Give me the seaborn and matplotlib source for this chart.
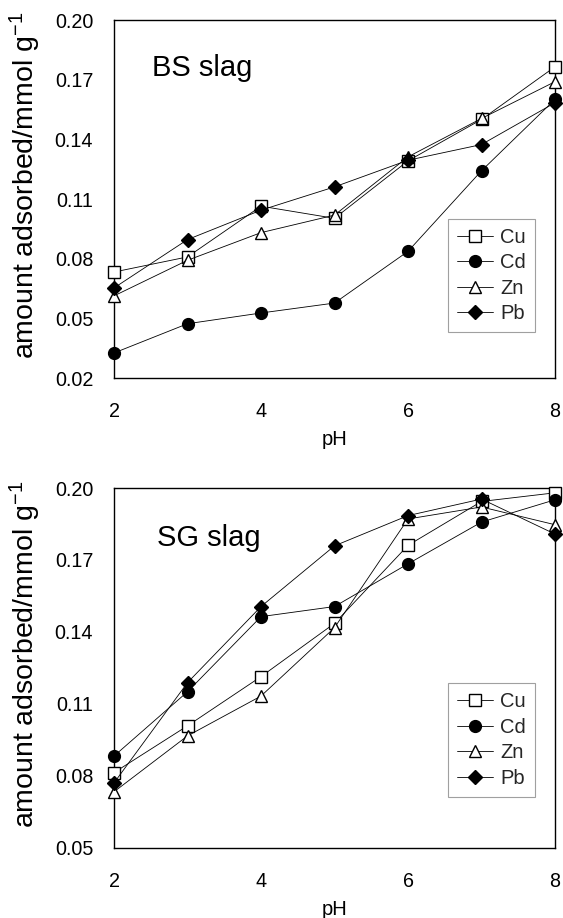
import matplotlib
matplotlib.use("Agg")
import matplotlib.pyplot as plt
import seaborn as sns
import pandas as pd

pH = [2, 3, 4, 5, 6, 7, 8]
metals = ["Cu", "Cd", "Zn", "Pb"]

bs_cu = [0.0733, 0.0809, 0.1064, 0.1003, 0.1292, 0.1500, 0.1765]
bs_cd = [0.0326, 0.0473, 0.0527, 0.0577, 0.0837, 0.1242, 0.1601]
bs_zn = [0.0613, 0.0792, 0.0931, 0.1019, 0.1312, 0.1505, 0.1690]
bs_pb = [0.0653, 0.0896, 0.1044, 0.1161, 0.1295, 0.1374, 0.1584]

sg_cu = [0.0814, 0.1009, 0.1214, 0.1436, 0.1761, 0.1944, 0.1980]
sg_cd = [0.0883, 0.1151, 0.1464, 0.1506, 0.1684, 0.1858, 0.1951]
sg_zn = [0.0734, 0.0967, 0.1133, 0.1418, 0.1871, 0.1921, 0.1847]
sg_pb = [0.0771, 0.1189, 0.1506, 0.1759, 0.1885, 0.1954, 0.1808]

bs_ticks = [0.02, 0.05, 0.08, 0.11, 0.14, 0.17, 0.20]
sg_ticks = [0.05, 0.08, 0.11, 0.14, 0.17, 0.20]
x_ticks = [2, 4, 6, 8]

sns.set_theme(style="white")
plt.rcParams["font.family"] = ["Liberation Sans", "DejaVu Sans"]
plt.rcParams["mathtext.fontset"] = "custom"
plt.rcParams["mathtext.rm"] = "Liberation Sans"
plt.rcParams["mathtext.it"] = "Liberation Sans"

styles = {
    "Cu": dict(marker="s", mfc="white"),
    "Cd": dict(marker="o", mfc="black"),
    "Zn": dict(marker="^", mfc="white"),
    "Pb": dict(marker="D", mfc="black"),
}
msizes = {"Cu": 8, "Cd": 8.5, "Zn": 8.5, "Pb": 7}

fig = plt.figure(figsize=(5.63, 9.18), dpi=100)
ax1 = fig.add_axes([0.2025, 0.5882, 0.7833, 0.3900])
ax2 = fig.add_axes([0.2025, 0.0763, 0.7833, 0.3921])

panels = [
    (ax1, [bs_cu, bs_cd, bs_zn, bs_pb], "BS slag", bs_ticks, (0.02, 0.20), (0.955, 0.128), (0.086, 0.866)),
    (ax2, [sg_cu, sg_cd, sg_zn, sg_pb], "SG slag", sg_ticks, (0.05, 0.20), (0.955, 0.142), (0.098, 0.861)),
]

for ax, series, title, yt, ylim, anchor, tpos in panels:
    for m, vals in zip(metals, series):
        df = pd.DataFrame({"pH": pH, "v": vals})
        sns.lineplot(data=df, x="pH", y="v", ax=ax, color="black", lw=0.6,
                     marker=styles[m]["marker"], markerfacecolor=styles[m]["mfc"],
                     markeredgecolor="black", markeredgewidth=1.0,
                     markersize=msizes[m], label=m, clip_on=False, zorder=3)
    ax.set_xlim(2, 8)
    ax.set_ylim(*ylim)
    ax.set_xticks(x_ticks)
    ax.set_yticks(yt)
    ax.set_yticklabels([f"{t:.2f}" for t in yt])
    ax.tick_params(direction="in", length=4, width=0.6, labelsize=14.2, colors="black")
    ax.tick_params(axis="x", pad=17, color="#777777", labelcolor="black")
    ax.tick_params(axis="y", pad=15, color="#777777", labelcolor="black")
    for s in ax.spines.values():
        s.set_color("black")
        s.set_linewidth(1.0)
    ax.set_xlabel("pH", fontsize=14.5, color="black", labelpad=7)
    ax.set_ylabel("amount adsorbed/mmol g$^{-1}$", fontsize=20.5, color="black")
    ax.yaxis.set_label_coords(-0.16, 0.539)
    ax.text(tpos[0], tpos[1], title, transform=ax.transAxes, fontsize=21, color="black",
            va="center", ha="left")
    leg = ax.legend(loc="lower right", bbox_to_anchor=anchor, frameon=True, fancybox=False,
                    edgecolor="#888888", fontsize=14.5, handlelength=1.8, handletextpad=0.35,
                    borderpad=0.45, labelspacing=0.32, borderaxespad=0)
    leg.get_frame().set_linewidth(0.8)

fig.savefig("out.png", dpi=100)
